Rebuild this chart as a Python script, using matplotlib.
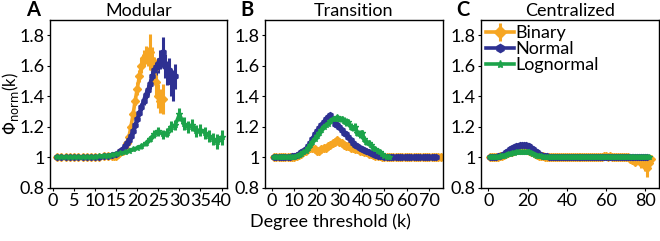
import numpy as np
import matplotlib
matplotlib.use("Agg")
import matplotlib.pyplot as plt
from matplotlib.ticker import FuncFormatter

plt.rcParams['font.family'] = ['Lato', 'DejaVu Sans']
plt.rcParams['mathtext.fontset'] = 'dejavusans'

C_BIN = '#F6A623'
C_NOR = '#2E3192'
C_LOG = '#1CA34A'

# ---------------- Panel A: Modular ----------------
a_bin_k = [1, 2, 3, 4, 5, 6, 7, 8, 9, 10, 11, 12, 13, 14, 14.5, 15, 15.5, 16, 16.5, 17, 17.5,
           18, 18.5, 19, 19.5, 20, 20.5, 21, 21.5, 22, 22.5, 23, 23.5, 24, 24.5, 25, 25.5, 26]
a_bin_v = [1.0, 1.0, 1.0, 1.0, 1.0, 1.0, 1.0, 1.0, 1.0, 1.0, 1.0, 1.005, 1.005, 1.01, 1.01, 1.01,
           1.02, 1.03, 1.04, 1.06, 1.09, 1.13, 1.2, 1.28, 1.37, 1.45, 1.53, 1.6, 1.65, 1.67, 1.66,
           1.69, 1.64, 1.58, 1.49, 1.4, 1.37, 1.38]
a_bin_e = [0.005, 0.005, 0.005, 0.005, 0.005, 0.005, 0.005, 0.005, 0.005, 0.005, 0.005, 0.005,
           0.005, 0.005, 0.005, 0.005, 0.01, 0.01, 0.01, 0.01, 0.015, 0.02, 0.02, 0.03, 0.03, 0.04,
           0.04, 0.05, 0.05, 0.06, 0.06, 0.12, 0.08, 0.08, 0.08, 0.08, 0.08, 0.1]

a_nor_k = [1, 2, 3, 4, 5, 6, 7, 8, 9, 10, 11, 12, 13, 14, 15, 16, 16.5, 17, 17.5, 18, 18.5, 19,
           19.5, 20, 20.5, 21, 21.5, 22, 22.5, 23, 23.5, 24, 24.5, 25, 25.5, 26, 26.5, 27, 27.5,
           28, 28.5, 29]
a_nor_v = [1.0, 1.0, 1.0, 1.0, 1.0, 1.0, 1.0, 1.0, 1.0, 1.0, 1.0, 1.005, 1.01, 1.015, 1.02, 1.04,
           1.05, 1.07, 1.09, 1.11, 1.14, 1.17, 1.21, 1.25, 1.29, 1.33, 1.37, 1.41, 1.44, 1.48,
           1.53, 1.57, 1.59, 1.6, 1.64, 1.69, 1.6, 1.55, 1.57, 1.49, 1.47, 1.53]
a_nor_e = [0.005, 0.005, 0.005, 0.005, 0.005, 0.005, 0.005, 0.005, 0.005, 0.005, 0.005, 0.005,
           0.005, 0.005, 0.01, 0.01, 0.01, 0.01, 0.015, 0.015, 0.015, 0.02, 0.02, 0.02, 0.02, 0.025,
           0.025, 0.03, 0.03, 0.03, 0.04, 0.04, 0.05, 0.05, 0.06, 0.1, 0.08, 0.08, 0.08, 0.09,
           0.1, 0.08]

a_log_k = [1, 2, 3, 4, 5, 6, 7, 8, 9, 10, 11, 12, 13, 14, 15, 16, 17, 18, 19, 20, 21, 22, 23,
           24, 25, 26, 27, 28, 29, 30, 31, 32, 33, 34, 35, 36, 37, 38, 39, 40]
a_log_v = [1.0, 1.0, 1.0, 1.0, 1.0, 1.0, 1.0, 1.0, 1.0, 1.0, 1.005, 1.01, 1.01, 1.015, 1.02,
           1.025, 1.03, 1.04, 1.05, 1.06, 1.07, 1.09, 1.12, 1.15, 1.17, 1.15, 1.16, 1.2, 1.21,
           1.28, 1.22, 1.2, 1.21, 1.17, 1.18, 1.16, 1.14, 1.12, 1.1, 1.13]
a_log_e = [0.005, 0.005, 0.005, 0.005, 0.005, 0.005, 0.005, 0.005, 0.005, 0.005, 0.005, 0.005,
           0.005, 0.005, 0.005, 0.005, 0.01, 0.01, 0.01, 0.01, 0.015, 0.015, 0.02, 0.025, 0.03,
           0.03, 0.03, 0.035, 0.035, 0.04, 0.04, 0.04, 0.04, 0.04, 0.04, 0.04, 0.04, 0.04, 0.05,
           0.05]

# ---------------- Panel B: Transition ----------------
b_bin_k = list(range(1, 76))
b_bin_v = [1.0] * 10 + [1.01, 1.015, 1.02, 1.03, 1.04, 1.05, 1.06, 1.06, 1.05, 1.04,
           1.04, 1.05, 1.06, 1.06, 1.07, 1.08, 1.09, 1.1, 1.11, 1.1,
           1.09, 1.08, 1.07, 1.07, 1.06, 1.06, 1.05, 1.05, 1.04, 1.04,
           1.03, 1.03, 1.02, 1.02, 1.015, 1.01, 1.01, 1.005] + [1.0] * 27

b_nor_k = list(range(1, 74))
b_nor_v = [1.0] * 8 + [1.005, 1.01, 1.015, 1.02, 1.03, 1.04, 1.055, 1.07, 1.09, 1.12, 1.15,
           1.17, 1.19, 1.21, 1.23, 1.25, 1.265, 1.275, 1.25, 1.22, 1.21, 1.2, 1.18, 1.16, 1.15,
           1.13, 1.11, 1.09, 1.08, 1.07, 1.06, 1.05, 1.045, 1.04, 1.03, 1.025, 1.02, 1.015,
           1.01, 1.01, 1.005] + [1.0] * 24

b_log_k = list(range(1, 53))
b_log_v = [1.0] * 10 + [1.01, 1.015, 1.02, 1.03, 1.04, 1.06, 1.08, 1.1, 1.12, 1.14, 1.16,
           1.18, 1.2, 1.21, 1.22, 1.24, 1.25, 1.25, 1.26, 1.25, 1.25, 1.24, 1.23, 1.23, 1.2,
           1.19, 1.2, 1.16, 1.15, 1.16, 1.12, 1.1, 1.09, 1.08, 1.06, 1.05, 1.04, 1.03, 1.02,
           1.01, 1.0, 1.0]
b_log_e = [0.0] * 25 + [0.01, 0.01, 0.015, 0.015, 0.02, 0.02, 0.02, 0.025, 0.02, 0.025,
           0.02, 0.025, 0.02, 0.025, 0.02, 0.02, 0.02, 0.02, 0.015, 0.015, 0.01, 0.01, 0.01,
           0.01, 0.01, 0.005, 0.005]

# ---------------- Panel C: Centralized ----------------
c_bin_k = list(range(1, 84))
c_bin_v = [1.0] * 5 + [1.005, 1.01, 1.015, 1.02, 1.025, 1.03, 1.035, 1.04, 1.045, 1.045,
           1.05, 1.05, 1.05, 1.05, 1.045, 1.04, 1.035, 1.03, 1.02, 1.015, 1.01, 1.01, 1.005] + \
          [1.0] * 30 + [1.01, 1.005, 1.0, 1.01, 1.0, 1.0] + [1.0] * 7 + \
          [0.99, 0.98, 0.99, 0.97, 0.98, 0.99, 0.96, 0.98, 0.95, 0.93, 0.96, 0.99]
c_bin_e = [0.0] * 71 + [0.01, 0.02, 0.01, 0.02, 0.02, 0.01, 0.03, 0.02, 0.04, 0.06, 0.04,
           0.02]

c_nor_k = list(range(1, 82))
c_nor_v = [1.0] * 4 + [1.005, 1.01, 1.015, 1.02, 1.03, 1.04, 1.05, 1.06, 1.065, 1.07, 1.075,
           1.08, 1.08, 1.08, 1.08, 1.075, 1.07, 1.06, 1.05, 1.04, 1.03, 1.02, 1.015, 1.01, 1.01,
           1.005] + [1.0] * 51

c_log_k = list(range(1, 83))
c_log_v = [1.0] * 5 + [1.005, 1.01, 1.01, 1.015, 1.02, 1.02, 1.025, 1.025, 1.03, 1.03, 1.03,
           1.035, 1.035, 1.035, 1.03, 1.03, 1.025, 1.02, 1.015, 1.01, 1.01, 1.005] + [1.0] * 55

titles = ['Modular', 'Transition', 'Centralized']
letters = ['A', 'B', 'C']
series_labels = ['Binary', 'Normal', 'Lognormal']

fig = plt.figure(figsize=(6.6, 2.41), dpi=100)
W, H = 660, 241
boxes = [(50.5, 227), (265, 443), (481, 659)]
top, bottom = 20, 187.5
axes = []
for (l, r) in boxes:
    ax = fig.add_axes([l / W, 1 - bottom / H, (r - l) / W, (bottom - top) / H])
    axes.append(ax)

style = dict(lw=2.6, elinewidth=2.2, capsize=0, markersize=4.2)


def draw(ax, k, v, e, color, marker, label=None):
    ax.errorbar(k, v, yerr=e, color=color, marker=marker, label=label, **style)


draw(axes[0], a_bin_k, a_bin_v, a_bin_e, C_BIN, 'D')
draw(axes[0], a_nor_k, a_nor_v, a_nor_e, C_NOR, 'h')
draw(axes[0], a_log_k, a_log_v, a_log_e, C_LOG, '*')

draw(axes[1], b_bin_k, b_bin_v, None, C_BIN, 'D')
draw(axes[1], b_nor_k, b_nor_v, None, C_NOR, 'h')
draw(axes[1], b_log_k, b_log_v, b_log_e, C_LOG, '*')

draw(axes[2], c_bin_k, c_bin_v, c_bin_e, C_BIN, 'D', series_labels[0])
draw(axes[2], c_nor_k, c_nor_v, None, C_NOR, 'h', series_labels[1])
draw(axes[2], c_log_k, c_log_v, None, C_LOG, '*', series_labels[2])

FS = 13
xlims = [(-0.6, 41.3), (-3, 76), (-3.7, 87)]
xticks = [list(range(0, 41, 5)), list(range(0, 71, 10)), list(range(0, 81, 20))]
fmt = FuncFormatter(lambda y, p: '1' if abs(y - 1) < 1e-9 else f'{y:.1f}')
for i, ax in enumerate(axes):
    ax.set_xlim(*xlims[i])
    ax.set_ylim(0.8, 1.9)
    ax.set_xticks(xticks[i])
    ax.set_yticks([0.8, 1.0, 1.2, 1.4, 1.6, 1.8])
    ax.yaxis.set_major_formatter(fmt)
    ax.tick_params(labelsize=FS, length=2.5, width=0.8, pad=1.5)
    for s in ax.spines.values():
        s.set_linewidth(1.0)
    ax.set_title(titles[i], fontsize=FS, pad=3)
    ax.text(-0.1, 1.0, letters[i], transform=ax.transAxes, fontsize=14.5,
            fontweight='bold', ha='center', va='bottom')

fig.text(10.5 / W, 1 - 104 / H, r'$\Phi_{\mathrm{norm}}$(k)', rotation=90,
         ha='center', va='center', fontsize=12)
fig.text(0.5, 1 - 222 / H, 'Degree threshold (k)', ha='center', va='center', fontsize=FS)

axes[2].legend(loc='upper left', frameon=False, fontsize=FS, handlelength=1.5,
               handletextpad=0.1, labelspacing=0.0, borderaxespad=0.1, borderpad=0.2,
               markerscale=1.4)

fig.savefig('out.png', dpi=100)
